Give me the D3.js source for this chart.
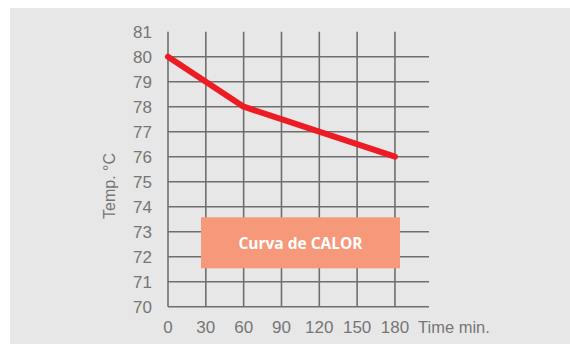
<!DOCTYPE html>
<html>
<head>
<meta charset="utf-8">
<script src="https://cdn.jsdelivr.net/npm/d3@7"></script>
<style>
  html, body { margin: 0; padding: 0; background: #ffffff; }
  svg { display: block; }
  .tick-label, .axis-title { font-family: "Liberation Sans", Arial, sans-serif; }
  .curve-label { font-family: "Open Sans", sans-serif; font-weight: bold; }
</style>
</head>
<body>
<svg id="chart" width="570" height="344"></svg>
<script>
// Heating curve: temperature over time
const timeMin = [0, 60, 180];
const tempC = [80, 78, 76];
const xTicks = [0, 30, 60, 90, 120, 150, 180];
const yTicks = [70, 71, 72, 73, 74, 75, 76, 77, 78, 79, 80, 81];
const xExtent = [0, 207];
const yExtent = [70, 81];
const curveLabel = "Curva de CALOR";
const xTitle = "Time min.";
const yTitle = "Temp. °C";

const svg = d3.select("#chart");

// panel background
svg.append("rect")
  .attr("x", 10).attr("y", 8)
  .attr("width", 560).attr("height", 336)
  .attr("fill", "#e7e7e7");

const x = d3.scaleLinear().domain(xExtent).range([168, 429]);
const y = d3.scaleLinear().domain(yExtent).range([306.7, 31.7]);

const grid = svg.append("g")
  .attr("stroke", "#6f6f6f")
  .attr("stroke-width", 1.6);

// horizontal grid lines (70..80)
grid.selectAll("line.h")
  .data(yTicks.filter(v => v < yExtent[1]))
  .join("line")
  .attr("class", "h")
  .attr("x1", x(0)).attr("x2", x(xExtent[1]))
  .attr("y1", d => y(d)).attr("y2", d => y(d));

// vertical grid lines
grid.selectAll("line.v")
  .data(xTicks)
  .join("line")
  .attr("class", "v")
  .attr("x1", d => x(d)).attr("x2", d => x(d))
  .attr("y1", y(yExtent[0])).attr("y2", y(yExtent[1]));

// y tick labels
svg.append("g").selectAll("text")
  .data(yTicks)
  .join("text")
  .attr("class", "tick-label")
  .attr("x", 152)
  .attr("y", d => y(d))
  .attr("dy", "0.36em")
  .attr("text-anchor", "end")
  .attr("fill", "#767676")
  .attr("font-size", 17)
  .text(d => d);

// x tick labels
svg.append("g").selectAll("text")
  .data(xTicks)
  .join("text")
  .attr("class", "tick-label")
  .attr("x", d => x(d))
  .attr("y", 333)
  .attr("text-anchor", "middle")
  .attr("fill", "#767676")
  .attr("font-size", 17)
  .text(d => d);

// axis titles
svg.append("text")
  .attr("class", "axis-title")
  .attr("x", 418).attr("y", 333)
  .attr("fill", "#767676")
  .attr("font-size", 16.5)
  .text(xTitle);

svg.append("text")
  .attr("class", "axis-title")
  .attr("transform", "translate(115,186) rotate(-90)")
  .attr("text-anchor", "middle")
  .attr("fill", "#767676")
  .attr("font-size", 16)
  .text(yTitle);

// curve label box
const boxG = svg.append("g");
boxG.append("rect")
  .attr("x", 201).attr("y", 217.3)
  .attr("width", 199).attr("height", 51)
  .attr("fill", "#f5997a");
boxG.append("text")
  .attr("class", "curve-label")
  .attr("x", 300.5).attr("y", 243)
  .attr("dy", "0.36em")
  .attr("text-anchor", "middle")
  .attr("fill", "#ffffff")
  .attr("font-size", 15.5)
  .text(curveLabel);

// temperature line
const pts = timeMin.map((t, i) => [t, tempC[i]]);
svg.append("path")
  .datum(pts)
  .attr("fill", "none")
  .attr("stroke", "#ed1c24")
  .attr("stroke-width", 6)
  .attr("stroke-linecap", "round")
  .attr("stroke-linejoin", "round")
  .attr("d", d3.line().x(d => x(d[0])).y(d => y(d[1])));
</script>
</body>
</html>
